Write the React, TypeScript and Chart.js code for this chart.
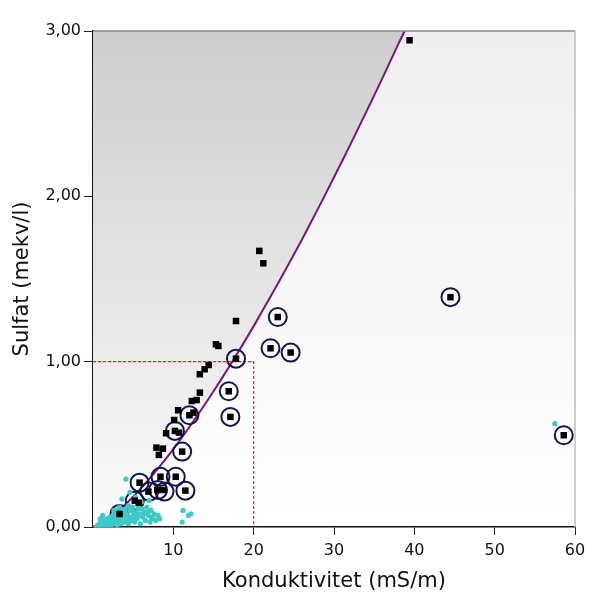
import React, { useEffect, useRef } from "react";
import { Chart, registerables } from "chart.js";

Chart.register(...registerables);

// Black squares: conductivity (mS/m) and sulfate (mekv/l)
const squareX = [39.4, 20.7, 21.2, 17.8, 15.3, 15.6, 17.8, 23.0, 22.1, 24.6, 44.5, 58.6, 14.4, 13.9, 13.3, 13.3, 12.9, 12.3, 10.6, 12.0, 12.5, 16.9, 17.1, 10.1, 10.2, 9.1, 10.7, 11.1, 7.9, 8.7, 8.2, 8.4, 10.3, 5.8, 11.5, 6.9, 8.0, 8.7, 5.2, 5.7, 3.3];
const squareY = [2.944, 1.670, 1.595, 1.246, 1.105, 1.095, 1.018, 1.270, 1.081, 1.055, 1.390, 0.555, 0.980, 0.954, 0.924, 0.813, 0.768, 0.762, 0.706, 0.676, 0.692, 0.821, 0.666, 0.647, 0.581, 0.567, 0.571, 0.456, 0.480, 0.474, 0.436, 0.304, 0.304, 0.268, 0.220, 0.214, 0.224, 0.224, 0.159, 0.147, 0.079];

// Circled samples
const circleX = [17.8, 23.0, 22.1, 24.6, 44.5, 58.6, 12.0, 16.9, 17.1, 10.2, 11.1, 8.4, 10.3, 5.8, 11.5, 7.0, 8.1, 8.9, 5.2, 3.3];
const circleY = [1.018, 1.270, 1.081, 1.055, 1.390, 0.555, 0.676, 0.821, 0.666, 0.581, 0.456, 0.304, 0.304, 0.268, 0.220, 0.214, 0.224, 0.214, 0.159, 0.079];

// Cyan samples
const cyanX = [0.6, 0.8, 1.0, 1.1, 1.3, 1.4, 1.6, 1.7, 1.9, 2.0, 2.1, 2.3, 2.4, 2.5, 2.7, 2.8, 2.9, 3.0, 3.1, 3.2, 3.4, 3.5, 3.6, 3.8, 3.9, 4.0, 4.1, 4.2, 4.4, 4.5, 4.6, 4.8, 4.9, 5.0, 5.2, 5.3, 5.5, 5.6, 5.8, 5.9, 6.1, 6.2, 6.4, 6.5, 6.7, 6.9, 7.1, 7.2, 7.4, 7.6, 7.8, 8.1, 8.3, 4.1, 4.6, 3.6, 5.3, 11.2, 11.9, 12.2, 11.1, 57.5, 1.5, 2.2, 0.9, 1.2, 2.6, 3.3, 6.0, 7.0, 0.4, 0.7, 1.0, 1.3, 1.6, 1.8, 2.0, 2.2, 2.5, 2.7, 3.0, 3.3, 3.5, 3.7, 4.3, 4.7, 5.1, 5.4, 5.7, 6.3, 6.8, 7.3, 2.8, 3.4, 4.0, 4.4, 4.9, 5.6];
const cyanY = [0.01, 0.02, 0.0, 0.03, 0.01, 0.04, 0.02, 0.05, 0.03, 0.01, 0.06, 0.04, 0.02, 0.07, 0.05, 0.03, 0.08, 0.01, 0.06, 0.04, 0.09, 0.02, 0.05, 0.07, 0.03, 0.11, 0.05, 0.08, 0.02, 0.06, 0.10, 0.04, 0.12, 0.07, 0.03, 0.09, 0.05, 0.13, 0.08, 0.02, 0.11, 0.06, 0.09, 0.04, 0.12, 0.07, 0.03, 0.10, 0.06, 0.08, 0.04, 0.07, 0.05, 0.29, 0.21, 0.17, 0.18, 0.10, 0.07, 0.08, 0.03, 0.625, 0.0, 0.0, 0.05, 0.07, 0.10, 0.12, 0.15, 0.16, 0.0, 0.0, 0.015, 0.02, 0.03, 0.015, 0.035, 0.025, 0.04, 0.02, 0.045, 0.03, 0.06, 0.04, 0.04, 0.05, 0.055, 0.065, 0.07, 0.08, 0.09, 0.05, 0.10, 0.11, 0.09, 0.13, 0.10, 0.11];

// Boundary curve
const curveX = [0, 2, 4, 6, 8, 10, 12, 14, 16, 18, 20, 22, 24, 26, 28, 30, 32, 34, 36, 38, 38.8];
const curveY = [0, 0.052, 0.135, 0.235, 0.348, 0.471, 0.605, 0.747, 0.896, 1.052, 1.215, 1.385, 1.559, 1.738, 1.924, 2.115, 2.310, 2.509, 2.712, 2.921, 3.0];

// Red dashed reference box
const refX = [0, 20, 20];
const refY = [1, 1, 0];

const xTicks = [10, 20, 30, 40, 50, 60];
const yTicks = [0, 1, 2, 3];
const yTickLabels = ["0,00", "1,00", "2,00", "3,00"];

const pts = (xs: number[], ys: number[]) => xs.map((x, i) => ({ x, y: ys[i] }));

const FONT = "'DejaVu Sans', sans-serif";

const bgPlugin = {
  id: "bgPlugin",
  beforeDraw(chart: any) {
    const { ctx, chartArea } = chart;
    if (!chartArea) return;
    const g = ctx.createLinearGradient(0, chartArea.top, 0, chartArea.bottom);
    g.addColorStop(0, "#efefef");
    g.addColorStop(1, "#ffffff");
    ctx.save();
    ctx.fillStyle = g;
    ctx.fillRect(chartArea.left, chartArea.top, chartArea.right - chartArea.left, chartArea.bottom - chartArea.top);
    ctx.restore();
  },
  afterDraw(chart: any) {
    const { ctx, chartArea } = chart;
    ctx.save();
    ctx.lineWidth = 1.5;
    ctx.strokeStyle = "#8a8a8a";
    ctx.beginPath();
    ctx.moveTo(chartArea.left, chartArea.top);
    ctx.lineTo(chartArea.right, chartArea.top);
    ctx.stroke();
    ctx.strokeStyle = "#bdbdbd";
    ctx.beginPath();
    ctx.moveTo(chartArea.right, chartArea.top);
    ctx.lineTo(chartArea.right, chartArea.bottom);
    ctx.stroke();
    ctx.restore();
  },
};

export default function App() {
  const ref = useRef<HTMLCanvasElement | null>(null);

  useEffect(() => {
    if (!ref.current) return;
    const chart = new Chart(ref.current, {
      type: "scatter",
      data: {
        datasets: [
          {
            type: "scatter",
            data: pts(squareX, squareY),
            pointStyle: "rect",
            pointRadius: 4.6,
            pointBackgroundColor: "#000000",
            pointBorderWidth: 0,
            order: 1,
          } as any,
          {
            type: "scatter",
            data: pts(cyanX, cyanY),
            pointStyle: "circle",
            pointRadius: 2.6,
            pointBackgroundColor: "#3ec9c6",
            pointBorderWidth: 0,
            order: 2,
          } as any,
          {
            type: "scatter",
            data: pts(circleX, circleY),
            pointStyle: "circle",
            pointRadius: 9,
            pointBackgroundColor: "rgba(0,0,0,0)",
            pointBorderColor: "#14144e",
            pointBorderWidth: 2,
            order: 3,
          } as any,
          {
            type: "line",
            data: pts(refX, refY),
            borderColor: "#ff1a1a",
            borderWidth: 1.2,
            borderDash: [3, 2],
            pointRadius: 0,
            fill: false,
            tension: 0,
            order: 4,
          } as any,
          {
            type: "line",
            data: pts(curveX, curveY),
            borderColor: "#74187a",
            borderWidth: 2,
            pointRadius: 0,
            tension: 0.2,
            fill: "end",
            backgroundColor: (c: any) => {
              const area = c.chart.chartArea;
              if (!area) return "#dddddd";
              const g = c.chart.ctx.createLinearGradient(0, area.top, 0, area.bottom);
              g.addColorStop(0, "#cdcdcd");
              g.addColorStop(1, "#fbfbfb");
              return g;
            },
            order: 10,
          } as any,
        ],
      },
      options: {
        animation: false,
        responsive: false,
        layout: { padding: { top: 31, right: 31, left: 0, bottom: 0 } },
        plugins: { legend: { display: false }, tooltip: { enabled: false } },
        scales: {
          x: {
            type: "linear",
            min: 0,
            max: 60,
            afterFit: (s: any) => { s.height = 79; },
            afterBuildTicks: (s: any) => { s.ticks = [0, ...xTicks].map((v) => ({ value: v })); },
            grid: {
              display: true,
              drawOnChartArea: false,
              drawTicks: true,
              tickLength: 8,
              tickColor: (c: any) => (c.tick && c.tick.value === 0 ? "rgba(0,0,0,0)" : "#222222"),
              tickWidth: 1,
            },
            border: { display: true, color: "#111111", width: 1.5 },
            ticks: {
              color: "#111111",
              padding: 6,
              font: { family: FONT, size: 16 },
              maxRotation: 0,
              callback: (v: any) => (xTicks.includes(v) ? String(v) : ""),
            },
            title: {
              display: true,
              text: "Konduktivitet (mS/m)",
              color: "#111111",
              font: { family: FONT, size: 21 },
              padding: { top: 0, bottom: 12 },
            },
          },
          y: {
            type: "linear",
            min: 0,
            max: 3,
            afterFit: (s: any) => { s.width = 93; },
            afterBuildTicks: (s: any) => { s.ticks = yTicks.map((v) => ({ value: v })); },
            grid: {
              display: true,
              drawOnChartArea: false,
              drawTicks: true,
              tickLength: 9,
              tickColor: "#222222",
              tickWidth: 1,
            },
            border: { display: true, color: "#111111", width: 1.5 },
            ticks: {
              color: "#111111",
              padding: 3,
              font: { family: FONT, size: 16 },
              callback: (v: any) => {
                const i = yTicks.indexOf(v);
                return i >= 0 ? yTickLabels[i] : "";
              },
            },
            title: {
              display: true,
              text: "Sulfat (mekv/l)",
              color: "#111111",
              font: { family: FONT, size: 21 },
              padding: { top: 10, bottom: 0 },
            },
          },
        },
      },
      plugins: [bgPlugin],
    });
    return () => chart.destroy();
  }, []);

  return (
    <div style={{ position: "fixed", left: 0, top: 0, width: 606, height: 606, background: "#ffffff" }}>
      <canvas ref={ref} width={606} height={606} style={{ width: 606, height: 606, display: "block" }} />
    </div>
  );
}
